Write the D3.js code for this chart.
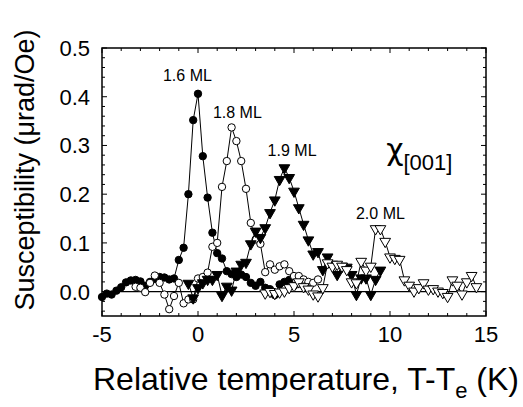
<!DOCTYPE html>
<html>
<head>
<meta charset="utf-8">
<script src="https://cdn.jsdelivr.net/npm/d3@7"></script>
<style>
  body { margin: 0; background: #fff; }
  svg { display: block; }
  text { font-family: "Liberation Sans", Arial, sans-serif; fill: #000; }
</style>
</head>
<body>
<svg id="chart" width="523" height="407"></svg>
<script>
// tick labels
const xTickValues = [-5, 0, 5, 10, 15];
const yTickValues = [0, 0.1, 0.2, 0.3, 0.4, 0.5];

// 1.6 ML (filled circles)
const temp16 = [-5,-4.75,-4.5,-4.25,-4,-3.75,-3.5,-3.25,-3,-2.75,-2.5,-2.25,-2,-1.75,-1.5,-1.25,-1,-0.75,-0.5,-0.25,0,0.25,0.5,0.75,1,1.25,1.5,1.75,2,2.25,2.5,2.75,3,3.25,3.5,3.75,4,4.25,4.5,4.75,5];
const chi16 = [-0.011,-0.004,-0.006,0.002,0.009,0.019,0.023,0.024,0.021,0.012,0.02,0.026,0.03,0.029,0.025,0.027,0.065,0.09,0.2,0.352,0.406,0.278,0.193,0.121,0.079,0.068,0.042,0.036,0.03,0.035,0.03,0.018,0.012,0.02,0.008,0.005,-0.007,0.015,0.02,0.024,0.012];

// 1.8 ML (open circles)
const temp18 = [-3.25,-3,-2.75,-2.5,-2.25,-2,-1.75,-1.5,-1.25,-1,-0.75,-0.5,-0.25,0,0.25,0.5,0.75,1,1.25,1.5,1.75,2,2.25,2.5,2.75,3,3.25,3.5,3.75,4,4.25,4.5,4.75,5,5.25,5.5,5.75,6,6.25];
const chi18 = [0.01,0.008,-0.001,0.018,0.033,0.018,-0.006,-0.036,-0.009,0.018,-0.024,-0.016,-0.016,0.027,0.03,0.039,0.092,0.1,0.215,0.268,0.337,0.309,0.268,0.211,0.141,0.107,0.098,0.04,0.056,0.045,0.052,0.056,0.042,0.032,0.032,0.025,0.02,0.018,0.025];

// 1.9 ML (filled down triangles)
const temp19 = [-0.5,-0.25,0,0.25,0.5,0.75,1,1.25,1.5,1.75,2,2.25,2.5,2.75,3,3.25,3.5,3.75,4,4.25,4.5,4.75,5,5.25,5.5,5.75,6,6.25,6.5,6.75,7,7.25,7.5,7.75,8,8.25,8.5,8.75,9,9.25,9.5];
const chi19 = [0.017,-0.013,0.008,0.018,0.025,0.025,0.035,-0.008,0.011,0.003,0.042,0.056,0.06,0.098,0.124,0.111,0.131,0.162,0.188,0.23,0.254,0.234,0.206,0.172,0.138,0.106,0.077,0.082,0.045,0.071,0.056,0.035,0.052,0.05,0.035,-0.006,0.028,0.028,-0.006,0.025,0.044];

// 2.0 ML (open down triangles)
const temp20 = [3.5,3.75,4,4.25,4.5,4.75,5,5.25,5.5,5.75,6,6.25,6.5,6.75,7,7.25,7.5,7.75,8,8.25,8.5,8.75,9,9.25,9.5,9.75,10,10.25,10.5,10.75,11,11.25,11.5,11.75,12,12.25,12.5,12.75,13,13.25,13.5,13.75,14,14.25,14.5];
const chi20 = [-0.003,0,-0.004,-0.001,0.001,0.008,0.012,0.02,0.01,0.005,-0.005,-0.009,0.008,0.059,0.052,0.056,0.052,0.045,0.02,0.018,0.062,0.044,0.052,0.129,0.129,0.103,0.071,0.068,0.066,0.024,0.013,0.001,0.008,0.018,0.005,0.006,0.001,-0.002,-0.01,0.024,0.013,-0.005,0.02,0.033,0.01];

const seriesNames = ["1.6 ML", "1.8 ML", "1.9 ML", "2.0 ML"];

const svg = d3.select("#chart");
const plotL = 102, plotR = 486, plotT = 48, plotB = 316;

const x = d3.scaleLinear().domain([-5, 15]).range([plotL, plotR]);
const y = d3.scaleLinear().domain([-0.05, 0.5]).range([plotB, plotT]);

// zero line
svg.append("line")
    .attr("x1", plotL).attr("x2", plotR)
    .attr("y1", y(0)).attr("y2", y(0))
    .attr("stroke", "#000").attr("stroke-width", 1.3);

// minor / major ticks, inward on all four sides
const xMinor = d3.range(-5, 15.001, 1);
const yMinor = d3.range(-0.04, 0.5001, 0.02);
const isMajorX = v => Math.abs(v % 5) < 1e-6;
const isMajorY = v => Math.abs(Math.round(v * 10) - v * 10) < 1e-6;

const ticks = svg.append("g").attr("stroke", "#000").attr("stroke-width", 1);
xMinor.forEach(v => {
    const len = isMajorX(v) ? 5 : 3;
    ticks.append("line").attr("x1", x(v)).attr("x2", x(v)).attr("y1", plotB).attr("y2", plotB - len);
    ticks.append("line").attr("x1", x(v)).attr("x2", x(v)).attr("y1", plotT).attr("y2", plotT + len);
});
yMinor.forEach(v => {
    const len = isMajorY(v) ? 5 : 3;
    ticks.append("line").attr("y1", y(v)).attr("y2", y(v)).attr("x1", plotL).attr("x2", plotL + len);
    ticks.append("line").attr("y1", y(v)).attr("y2", y(v)).attr("x1", plotR).attr("x2", plotR - len);
});

// tick labels
svg.append("g").selectAll("text").data(xTickValues).join("text")
    .attr("x", d => x(d)).attr("y", 342)
    .attr("text-anchor", "middle").attr("font-size", 22)
    .text(d => d);
svg.append("g").selectAll("text").data(yTickValues).join("text")
    .attr("x", 90).attr("y", d => y(d) + 8)
    .attr("text-anchor", "end").attr("font-size", 22)
    .text(d => d.toFixed(1));

// series
const line = d3.line().x(d => x(d[0])).y(d => y(d[1]));
const tri = d3.symbol().type(d3.symbolTriangle).size(50);
const series = [
    { t: temp16, v: chi16, shape: "circle", fill: "#000" },
    { t: temp18, v: chi18, shape: "circle", fill: "#fff" },
    { t: temp19, v: chi19, shape: "tri", fill: "#000" },
    { t: temp20, v: chi20, shape: "tri", fill: "#fff" }
];
series.forEach(s => {
    const pts = d3.zip(s.t, s.v);
    svg.append("path").datum(pts)
        .attr("d", line).attr("fill", "none")
        .attr("stroke", "#000").attr("stroke-width", 1);
    const g = svg.append("g");
    if (s.shape === "circle") {
        g.selectAll("circle").data(pts).join("circle")
            .attr("cx", d => x(d[0])).attr("cy", d => y(d[1])).attr("r", 3.7)
            .attr("fill", s.fill).attr("stroke", "#000").attr("stroke-width", 1);
    } else {
        g.selectAll("path").data(pts).join("path")
            .attr("d", tri)
            .attr("transform", d => `translate(${x(d[0])},${y(d[1])}) rotate(180)`)
            .attr("fill", s.fill).attr("stroke", "#000").attr("stroke-width", 1);
    }
});

// frame
svg.append("rect")
    .attr("x", plotL).attr("y", plotT)
    .attr("width", plotR - plotL).attr("height", plotB - plotT)
    .attr("fill", "none").attr("stroke", "#000").attr("stroke-width", 1.5);

// series labels
const labelPos = [[-0.55, 0.432], [2.05, 0.357], [4.9, 0.279], [9.5, 0.15]];
svg.append("g").selectAll("text").data(seriesNames).join("text")
    .attr("x", (d, i) => x(labelPos[i][0]))
    .attr("y", (d, i) => y(labelPos[i][1]))
    .attr("text-anchor", "middle").attr("font-size", 16)
    .text(d => d);

// chi_[001]
const chi = svg.append("text").attr("x", x(9.8)).attr("y", y(0.27)).attr("font-size", 30);
chi.append("tspan").attr("font-family", "DejaVu Sans").text("χ");
chi.append("tspan").attr("dy", 10).attr("font-size", 22).text("[001]");

// axis titles
const xt = svg.append("text").attr("x", 306).attr("y", 390)
    .attr("text-anchor", "middle").attr("font-size", 32);
xt.append("tspan").text("Relative temperature, T-T");
xt.append("tspan").attr("dy", 8).attr("font-size", 22).text("e");
xt.append("tspan").attr("dy", -8).text(" (K)");

svg.append("text")
    .attr("transform", "translate(34,170) rotate(-90)")
    .attr("text-anchor", "middle").attr("font-size", 27)
    .text("Susceptibility (\u03bcrad/Oe)");
</script>
</body>
</html>
